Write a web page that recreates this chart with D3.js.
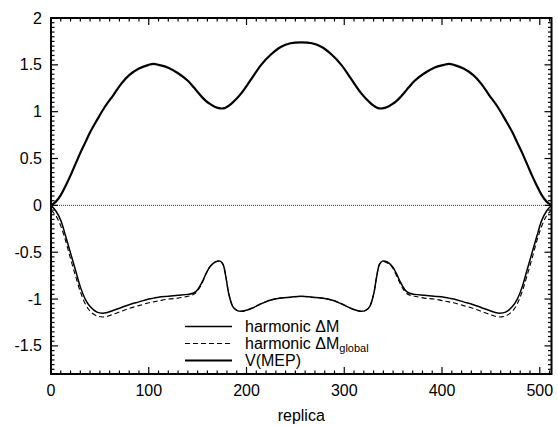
<!DOCTYPE html>
<html>
<head>
<meta charset="utf-8">
<script src="https://cdn.jsdelivr.net/npm/d3@7"></script>
<style>
  body { margin: 0; background: #fff; }
  svg { display: block; font-family: "Liberation Sans", Arial, Helvetica, sans-serif; }
</style>
</head>
<body>
<div id="chart"></div>
<script>
// replica index where values were read
const replica = [0, 5, 10, 15, 20, 25, 30, 35, 40, 47, 55, 64, 72, 80, 90, 100, 105, 110, 120, 130,
    140, 146, 150, 155, 159, 163, 168, 173, 176, 179, 182, 186, 190, 195, 205, 215, 225, 235, 245, 256,
    267, 277, 287, 297, 307, 317, 322, 326, 330, 333, 336, 339, 344, 349, 353, 357, 362, 366, 372, 382,
    392, 402, 407, 412, 422, 432, 440, 448, 457, 465, 472, 477, 482, 487, 492, 497, 502, 507, 512];

const vMEP = [0, 0.04, 0.11, 0.21, 0.32, 0.44, 0.56, 0.67, 0.78, 0.91, 1.05, 1.18, 1.3, 1.39, 1.46, 1.5, 1.51, 1.5, 1.47, 1.41,
    1.33, 1.26, 1.21, 1.15, 1.11, 1.08, 1.05, 1.035, 1.035, 1.045, 1.065, 1.1, 1.14, 1.2, 1.35, 1.5, 1.61, 1.69, 1.73, 1.74,
    1.73, 1.69, 1.61, 1.5, 1.35, 1.2, 1.14, 1.1, 1.065, 1.045, 1.035, 1.035, 1.05, 1.08, 1.11, 1.15, 1.21, 1.26, 1.33, 1.41,
    1.47, 1.5, 1.51, 1.5, 1.46, 1.39, 1.3, 1.18, 1.05, 0.91, 0.78, 0.67, 0.56, 0.44, 0.32, 0.21, 0.11, 0.04, 0];

const harmonicDM = [0, -0.06, -0.16, -0.33, -0.51, -0.69, -0.87, -1.0, -1.08, -1.14, -1.15, -1.12, -1.09, -1.06, -1.03, -1.0, -0.99, -0.98, -0.97, -0.96,
    -0.95, -0.935, -0.9, -0.81, -0.72, -0.65, -0.605, -0.595, -0.63, -0.77, -0.95, -1.08, -1.12, -1.13, -1.1, -1.05, -1.01, -0.99, -0.98, -0.97,
    -0.98, -0.99, -1.01, -1.05, -1.1, -1.13, -1.12, -1.08, -0.95, -0.77, -0.63, -0.595, -0.605, -0.65, -0.72, -0.81, -0.9, -0.935, -0.95, -0.96,
    -0.97, -0.98, -0.99, -1.0, -1.03, -1.06, -1.09, -1.12, -1.15, -1.14, -1.08, -1.0, -0.87, -0.69, -0.51, -0.33, -0.16, -0.06, 0];

const harmonicDMglobal = [-0.05, -0.11, -0.22, -0.38, -0.57, -0.75, -0.92, -1.05, -1.13, -1.18, -1.19, -1.16, -1.13, -1.1, -1.07, -1.04, -1.03, -1.02, -1.0, -0.99,
    -0.97, -0.95, -0.91, -0.82, -0.72, -0.65, -0.605, -0.595, -0.63, -0.77, -0.95, -1.08, -1.12, -1.13, -1.1, -1.05, -1.01, -0.99, -0.98, -0.97,
    -0.98, -0.99, -1.01, -1.05, -1.1, -1.13, -1.12, -1.08, -0.95, -0.77, -0.63, -0.6, -0.615, -0.66, -0.74, -0.83, -0.92, -0.955, -0.97, -0.99,
    -1.0, -1.02, -1.03, -1.04, -1.07, -1.1, -1.13, -1.16, -1.19, -1.18, -1.13, -1.05, -0.92, -0.75, -0.57, -0.38, -0.22, -0.11, -0.05];

const xTicks = [0, 100, 200, 300, 400, 500];
const yTicks = [-1.5, -1, -0.5, 0, 0.5, 1, 1.5, 2];
const legendLabels = ["harmonic ΔM", "harmonic ΔM", "V(MEP)"];

const width = 558, height = 426;
const margin = { top: 18, right: 6.5, bottom: 52, left: 51 };

const x = d3.scaleLinear().domain([0, 512]).range([margin.left, width - margin.right]);
const y = d3.scaleLinear().domain([-1.8, 2]).range([height - margin.bottom, margin.top]);

const svg = d3.select("#chart").append("svg")
    .attr("width", width)
    .attr("height", height);

// zero line
svg.append("line")
    .attr("x1", x(0)).attr("x2", x(512))
    .attr("y1", y(0)).attr("y2", y(0))
    .attr("stroke", "#000")
    .attr("stroke-width", 0.8)
    .attr("stroke-dasharray", "1,1");

const line = (vals) => d3.line()
    .x((d, i) => x(replica[i]))
    .y(d => y(d))
    .curve(d3.curveCatmullRom.alpha(0.5))(vals);

const series = [
    { vals: harmonicDM, w: 1.5, dash: null },
    { vals: harmonicDMglobal, w: 1.1, dash: "5,3" },
    { vals: vMEP, w: 2.2, dash: null }
];

svg.append("g")
    .selectAll("path")
    .data(series)
    .join("path")
    .attr("d", d => line(d.vals))
    .attr("fill", "none")
    .attr("stroke", "#000")
    .attr("stroke-width", d => d.w)
    .attr("stroke-dasharray", d => d.dash);

// ticks on all four sides, pointing inward
const x0 = x.range()[0], x1 = x.range()[1];
const yb = y.range()[0], yt = y.range()[1];
const ticks = svg.append("g").attr("stroke", "#000").attr("stroke-width", 1.2);

d3.range(0, 513, 10).forEach(v => {
    const len = v % 100 === 0 ? 7 : 3.5;
    ticks.append("line").attr("x1", x(v)).attr("x2", x(v)).attr("y1", yb).attr("y2", yb - len);
    ticks.append("line").attr("x1", x(v)).attr("x2", x(v)).attr("y1", yt).attr("y2", yt + len);
});
d3.range(-36, 41).forEach(k => {
    const v = k * 0.05;
    const len = k % 10 === 0 ? 7 : 3.5;
    ticks.append("line").attr("x1", x0).attr("x2", x0 + len).attr("y1", y(v)).attr("y2", y(v));
    ticks.append("line").attr("x1", x1).attr("x2", x1 - len).attr("y1", y(v)).attr("y2", y(v));
});

// frame
svg.append("rect")
    .attr("x", x0).attr("y", yt)
    .attr("width", x1 - x0).attr("height", yb - yt)
    .attr("fill", "none")
    .attr("stroke", "#000")
    .attr("stroke-width", 2);

// tick labels
svg.append("g")
    .selectAll("text")
    .data(xTicks)
    .join("text")
    .attr("x", d => x(d))
    .attr("y", yb + 22)
    .attr("text-anchor", "middle")
    .attr("font-size", 16)
    .text(d => d);

svg.append("g")
    .selectAll("text")
    .data(yTicks)
    .join("text")
    .attr("x", x0 - 9)
    .attr("y", d => y(d))
    .attr("dy", "0.35em")
    .attr("text-anchor", "end")
    .attr("font-size", 16)
    .text(d => d);

svg.append("text")
    .attr("x", (x0 + x1) / 2)
    .attr("y", height - 5)
    .attr("text-anchor", "middle")
    .attr("font-size", 16)
    .text("replica");

// legend
const legend = svg.append("g");
const rowY = [326.5, 343.5, 360.5];
series.forEach((s, i) => {
    legend.append("line")
        .attr("x1", 185).attr("x2", 232)
        .attr("y1", rowY[i]).attr("y2", rowY[i])
        .attr("stroke", "#000")
        .attr("stroke-width", s.w)
        .attr("stroke-dasharray", s.dash);
    const t = legend.append("text")
        .attr("x", 245)
        .attr("y", rowY[i])
        .attr("dy", "0.35em")
        .attr("font-size", 16)
        .text(legendLabels[i]);
    if (i === 1) {
        t.append("tspan").attr("font-size", 11).attr("dy", "0.3em").text("global");
    }
});
</script>
</body>
</html>
